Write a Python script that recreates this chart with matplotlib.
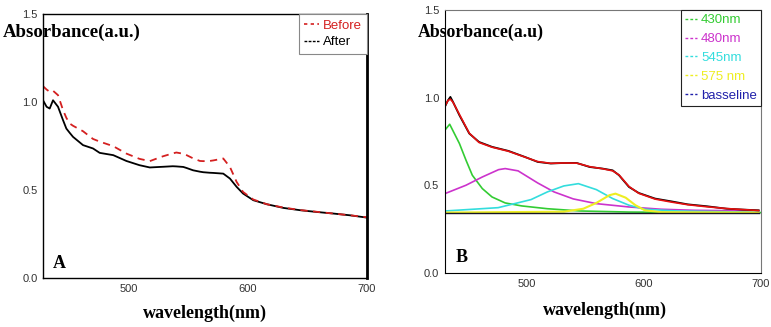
import matplotlib.pyplot as plt
from matplotlib.lines import Line2D

# ---------------------- DATA ----------------------
# Panel A: spectra before / after
wl_a = [428, 431, 433.6, 436.4, 440.6, 444.8, 447.6, 450.4, 453.2, 461.6, 470, 475.6,
        487, 498, 509, 517.7, 526, 529, 537, 540, 545.8, 548.6, 554, 559.8, 562.6,
        568, 571, 579.4, 585, 590.6, 596, 604.6, 616, 630, 644, 658, 672, 686, 700]
after = [1.01, 0.973, 0.963, 1.01, 0.973, 0.897, 0.849, 0.825, 0.802, 0.755, 0.736, 0.711,
         0.698, 0.665, 0.641, 0.628, 0.631, 0.632, 0.635, 0.634, 0.631, 0.625, 0.612, 0.604, 0.601,
         0.598, 0.597, 0.593, 0.565, 0.518, 0.480, 0.442, 0.419, 0.398, 0.385, 0.375, 0.366, 0.356, 0.343]
before = [1.09, 1.071, 1.058, 1.064, 1.039, 0.954, 0.91, 0.878, 0.865, 0.834, 0.79, 0.775,
          0.749, 0.707, 0.677, 0.664, 0.685, 0.692, 0.708, 0.713, 0.706, 0.698, 0.68, 0.665, 0.664,
          0.665, 0.668, 0.679, 0.631, 0.546, 0.489, 0.446, 0.419, 0.400, 0.386, 0.376, 0.366, 0.356, 0.345]

# Panel B: measured spectrum, fit and gaussian components
wl_b = [430.6, 433.3, 435.3, 437.5, 443, 451.4, 459.7, 470.8, 484.7, 498.6, 509.7, 520.8,
        532, 543, 554, 565, 573.6, 579, 587.5, 595.8, 609.7, 623.6, 637.5, 654, 670.8, 684.7, 698]
measured = [0.948, 0.986, 1.005, 0.977, 0.90, 0.796, 0.748, 0.720, 0.697, 0.663, 0.634, 0.625,
            0.628, 0.628, 0.605, 0.596, 0.586, 0.558, 0.491, 0.457, 0.425, 0.409, 0.392, 0.381, 0.367, 0.362, 0.358]
fit = [0.952, 0.985, 0.992, 0.975, 0.905, 0.798, 0.745, 0.718, 0.695, 0.662, 0.636, 0.626,
       0.628, 0.627, 0.607, 0.595, 0.583, 0.560, 0.494, 0.455, 0.422, 0.405, 0.390, 0.378, 0.368, 0.362, 0.357]

wl_g = [430.6, 434.7, 443, 448.6, 454, 462.5, 470.8, 482, 496, 518, 546, 587.5, 640, 700]
peak_430 = [0.815, 0.849, 0.739, 0.644, 0.558, 0.482, 0.434, 0.400, 0.383, 0.367, 0.354, 0.348, 0.346, 0.345]

wl_m = [430.6, 448.6, 462.5, 476.4, 482, 493, 509.7, 523.6, 540, 559.7, 587.5, 615, 643, 698]
peak_480 = [0.453, 0.501, 0.548, 0.590, 0.596, 0.583, 0.514, 0.463, 0.423, 0.396, 0.377, 0.364, 0.358, 0.354]

wl_c = [430.6, 476, 504, 518, 532, 544.4, 559.7, 573.6, 587.5, 601, 629, 698]
peak_545 = [0.354, 0.373, 0.419, 0.463, 0.497, 0.510, 0.476, 0.425, 0.387, 0.364, 0.354, 0.347]

wl_y = [430.6, 532, 548.6, 559.7, 570.8, 576, 584.7, 593, 601, 615, 698]
peak_575 = [0.345, 0.350, 0.367, 0.400, 0.444, 0.453, 0.430, 0.387, 0.358, 0.347, 0.345]

wl_base = [430.6, 698]
baseline = [0.343, 0.343]

comp_labels = ["430nm", "480nm", "545nm", "575 nm", "basseline"]
comp_colors = ["#33cc33", "#cc33cc", "#33dddd", "#eeee22", "#2020aa"]

# ---------------------- FIGURE ----------------------
fig = plt.figure(figsize=(7.71, 3.27), dpi=100)
ax_a = fig.add_axes([0.0558, 0.150, 0.420, 0.807])
ax_b = fig.add_axes([0.577, 0.165, 0.410, 0.804])

serif = "Liberation Serif"
sans = "Liberation Sans"

for ax in (ax_a, ax_b):
    ax.set_ylim(0, 1.5)
    ax.set_yticks([0.0, 0.5, 1.0, 1.5])
    ax.set_xticks([500, 600, 700])
    ax.tick_params(length=0, labelsize=8, labelcolor="#333333", pad=4)
    for lab in ax.get_xticklabels() + ax.get_yticklabels():
        lab.set_fontfamily(sans)

ax_a.set_xlim(428, 700)
ax_b.set_xlim(430.6, 700)

# Panel A
ax_a.plot(wl_a, after, color="black", lw=1.3)
ax_a.plot(wl_a, before, color="#d42020", lw=1.3, ls=(0, (4, 3)))
for s in ax_a.spines.values():
    s.set_linewidth(1.0)
ax_a.spines["right"].set_linewidth(2.0)
handles_a = [Line2D([], [], color="#d42020", ls=(0, (2, 2)), lw=1.2),
             Line2D([], [], color="black", ls=(0, (2, 1)), lw=1.0)]
leg = ax_a.legend(handles_a, ["Before", "After"], loc="upper right", borderaxespad=0,
                  handlelength=1.1, handletextpad=0.3, labelspacing=0.35,
                  borderpad=0.4, fancybox=False, framealpha=1, edgecolor="#888888",
                  prop={"family": sans, "size": 9.5}, labelcolor="linecolor")
leg.get_frame().set_linewidth(0.8)

# Panel B
ax_b.plot(wl_g, peak_430, color=comp_colors[0], lw=1.2)
ax_b.plot(wl_m, peak_480, color=comp_colors[1], lw=1.2)
ax_b.plot(wl_c, peak_545, color=comp_colors[2], lw=1.2)
ax_b.plot(wl_y, peak_575, color=comp_colors[3], lw=1.5)
ax_b.plot(wl_base, baseline, color="#151525", lw=1.0)
ax_b.plot(wl_b, measured, color="black", lw=1.3)
ax_b.plot(wl_b, fit, color="#e81010", lw=1.2)
for side in ("top", "right"):
    ax_b.spines[side].set_color("#777777")

handles_b = [Line2D([], [], color=c, ls=(0, (2, 1.5)), lw=1.0) for c in comp_colors]
leg_b = ax_b.legend(handles_b, comp_labels, loc="upper right", borderaxespad=0,
                    handlelength=0.9, handletextpad=0.3, labelspacing=0.5,
                    borderpad=0.3, fancybox=False, framealpha=1, edgecolor="#222222",
                    prop={"family": sans, "size": 9.5}, labelcolor="linecolor")
leg_b.get_frame().set_linewidth(0.8)

# Labels drawn as figure text, overlapping the axes like the original
fig.text(3 / 771, 1 - 32 / 327, "Absorbance(a.u.)", family=serif, weight="bold",
         fontsize=13.5, ha="left", va="center")
fig.text(418 / 771, 1 - 32 / 327, "Absorbance(a.u)", family=serif, weight="bold",
         fontsize=12.8, ha="left", va="center")
fig.text(205 / 771, 1 - 313 / 327, "wavelength(nm)", family=serif, weight="bold",
         fontsize=13, ha="center", va="center")
fig.text(605 / 771, 1 - 310 / 327, "wavelength(nm)", family=serif, weight="bold",
         fontsize=13, ha="center", va="center")
fig.text(59 / 771, 1 - 263 / 327, "A", family=serif, weight="bold",
         fontsize=13, ha="center", va="center")
fig.text(462 / 771, 1 - 258 / 327, "B", family=serif, weight="bold",
         fontsize=13, ha="center", va="center")

fig.savefig("out.png", dpi=100)
